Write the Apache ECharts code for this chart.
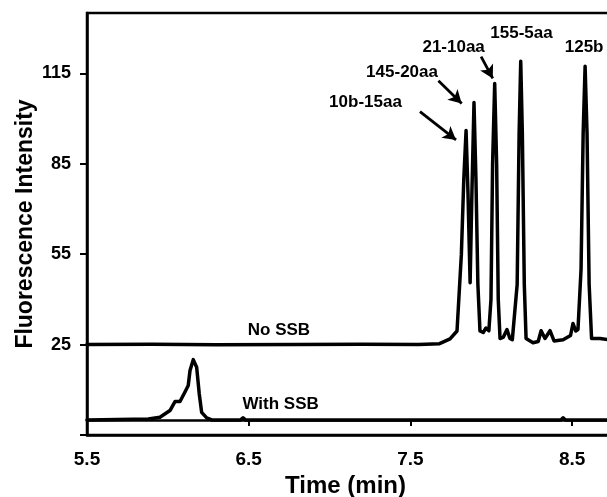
<!DOCTYPE html>
<html>
<head>
<meta charset="utf-8">
<script src="https://cdn.jsdelivr.net/npm/echarts@6/dist/echarts.min.js"></script>
<style>
  html, body { margin: 0; padding: 0; background: #fff; }
  #chart { width: 607px; height: 497px; }
</style>
</head>
<body>
<div id="chart"></div>
<script>
// Electropherogram: fluorescence vs migration time, with and without SSB.

// Trace without SSB (time in min, intensity)
const noSsbTime = [5.50, 5.90, 6.30, 6.80, 7.20, 7.55, 7.68, 7.745, 7.788, 7.815, 7.830, 7.844, 7.856, 7.869,
  7.880, 7.893, 7.905, 7.917, 7.930, 7.950, 7.967, 7.985, 7.998, 8.008, 8.021, 8.033, 8.043, 8.054,
  8.075, 8.097, 8.115, 8.130, 8.160, 8.172, 8.182, 8.192, 8.204, 8.215, 8.258, 8.290, 8.308, 8.332,
  8.363, 8.388, 8.444, 8.490, 8.505, 8.522, 8.536, 8.555, 8.568, 8.580, 8.592, 8.605, 8.620, 8.673, 8.734];
const noSsbValue = [25, 25.1, 24.9, 25, 25.1, 25, 25.3, 26.9, 29.5, 55, 80, 96, 75, 45.5,
  75, 105.3, 80, 45, 29.5, 29, 30.5, 29.6, 40, 85, 111.6, 85, 40, 27,
  27.5, 30, 27, 26.6, 45, 95, 119, 95, 45, 27, 25.6, 26, 29.6, 27,
  29.6, 26.2, 26.6, 28, 32, 29.5, 30, 50, 95, 117.3, 95, 45, 27, 27, 26.5];

// Trace with SSB
const withSsbTime = [5.50, 5.879, 5.951, 6.013, 6.044, 6.075, 6.105, 6.126, 6.137, 6.157, 6.178, 6.194,
  6.209, 6.240, 6.271, 6.450, 6.465, 6.480, 8.430, 8.444, 8.458, 8.734];
const withSsbValue = [0, 0.3, 0.9, 3.1, 6.1, 6.1, 9.2, 11.4, 16.4, 20, 17.5, 8.7,
  2.5, 0.7, 0, 0, 0.7, 0, 0, 0.7, 0, 0];

// Peak labels and trace labels
const noteText = ['10b-15aa', '145-20aa', '21-10aa', '155-5aa', '125b', 'No SSB', 'With SSB'];
const noteTime = [7.222, 7.448, 7.767, 8.187, 8.574, 6.687, 6.697];
const noteValue = [105.5, 115.4, 123.7, 128.4, 123.7, 29.8, 5.3];

// Arrows pointing at the labelled peaks
const arrowFromTime = [7.559, 7.673, 7.937];
const arrowFromValue = [102.3, 112.5, 120.5];
const arrowToTime = [7.782, 7.817, 8.009];
const arrowToValue = [92.9, 105.0, 113.3];

// Axis ticks and labels
const xTickLabels = [5.5, 6.5, 7.5, 8.5];
const xZeroTicks = [6.5, 7.5, 8.5];
const yTickLabels = [25, 55, 85, 115];
const yTicks = [-5, 25, 55, 85, 115];
const xMin = 5.5, xMax = 8.734, yMin = -5, yMax = 135;

const FONT = '"Liberation Sans", Arial, sans-serif';
const pair = (xs, ys) => xs.map((x, i) => [x, ys[i]]);

const lineStyle = { color: '#000', width: 3.5, join: 'round', cap: 'round' };

const chart = echarts.init(document.getElementById('chart'), null, { renderer: 'canvas' });
chart.setOption({
  animation: false,
  backgroundColor: '#fff',
  grid: {
    left: 87, top: 13, right: -3, bottom: 62,
    show: true, borderColor: '#000', borderWidth: 2.5, backgroundColor: 'transparent',
    outerBoundsMode: 'none'
  },
  xAxis: [
    {
      type: 'value', min: xMin, max: xMax, position: 'bottom',
      axisLine: { show: true, onZero: false, lineStyle: { color: '#000', width: 2.5 } },
      axisTick: { show: false },
      splitLine: { show: false },
      axisLabel: {
        customValues: xTickLabels, margin: 15, color: '#000',
        fontFamily: FONT, fontSize: 19, fontWeight: 'bold',
        formatter: v => v.toFixed(1)
      },
      name: 'Time (min)', nameLocation: 'middle', nameGap: 34,
      nameTextStyle: { color: '#000', fontFamily: FONT, fontSize: 24, fontWeight: 'bold', padding: [0, 6, 0, 0] }
    },
    {
      type: 'value', min: xMin, max: xMax, position: 'top',
      axisLine: { show: true, onZero: true, lineStyle: { color: '#000', width: 2.5 } },
      axisTick: { show: true, inside: true, length: 6, customValues: xZeroTicks, lineStyle: { color: '#000', width: 2 } },
      axisLabel: { show: false },
      splitLine: { show: false }
    }
  ],
  yAxis: {
    type: 'value', min: yMin, max: yMax, interval: 30,
    axisLine: { show: true, lineStyle: { color: '#000', width: 2.5 } },
    axisTick: { show: true, length: 7, customValues: yTicks, lineStyle: { color: '#000', width: 2 } },
    splitLine: { show: false },
    axisLabel: {
      customValues: yTickLabels, margin: 16, color: '#000',
      fontFamily: FONT, fontSize: 18, fontWeight: 'bold'
    },
    name: 'Fluorescence Intensity', nameLocation: 'middle', nameGap: 50, nameMoveOverlap: false,
    nameTextStyle: { color: '#000', fontFamily: FONT, fontSize: 23, fontWeight: 'bold' }
  },
  series: [
    {
      name: 'No SSB', type: 'line', xAxisIndex: 0, data: pair(noSsbTime, noSsbValue),
      showSymbol: false, symbol: 'none', lineStyle, z: 3
    },
    {
      name: 'With SSB', type: 'line', xAxisIndex: 0, data: pair(withSsbTime, withSsbValue),
      showSymbol: false, symbol: 'none', lineStyle, z: 3
    },
    {
      name: 'notes', type: 'scatter', xAxisIndex: 0, z: 4,
      symbol: 'circle', symbolSize: 1,
      itemStyle: { color: 'rgba(0,0,0,0)', opacity: 1 },
      data: noteText.map((t, i) => ({ name: t, value: [noteTime[i], noteValue[i]] })),
      label: {
        show: true, position: 'inside', formatter: p => p.name,
        color: '#000', opacity: 1, textBorderWidth: 0,
        fontFamily: FONT, fontSize: 17, fontWeight: 'bold',
        align: 'center', verticalAlign: 'middle'
      },
      emphasis: { disabled: true },
      markLine: {
        silent: true, animation: false,
        symbol: ['none', 'arrow'], symbolSize: [11, 13],
        lineStyle: { color: '#000', width: 2.8, type: 'solid', opacity: 1 },
        label: { show: false },
        data: arrowFromTime.map((t, i) => [
          { coord: [t, arrowFromValue[i]] },
          { coord: [arrowToTime[i], arrowToValue[i]] }
        ])
      }
    }
  ]
});
</script>
</body>
</html>
